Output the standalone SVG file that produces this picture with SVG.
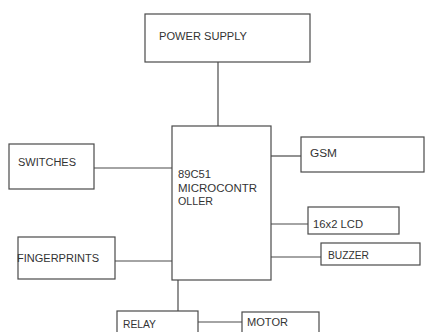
<svg xmlns="http://www.w3.org/2000/svg" width="425" height="332" viewBox="0 0 425 332">
<style>
.box{fill:#fff;stroke:#4a4a4a;stroke-width:1.2}
.ln{stroke:#4a4a4a;stroke-width:1.2;fill:none}
text{font-family:"Liberation Sans",Arial,sans-serif;font-size:10px;fill:#333;dominant-baseline:central}
</style>
<rect width="425" height="332" fill="#fff"/>
<g id="connectors">
<line class="ln" x1="218" y1="62" x2="218" y2="126"/>
<line class="ln" x1="94" y1="168" x2="172" y2="168"/>
<line class="ln" x1="115" y1="261" x2="172" y2="261"/>
<line class="ln" x1="271" y1="156" x2="301" y2="156"/>
<line class="ln" x1="270" y1="224" x2="308" y2="224"/>
<line class="ln" x1="270" y1="257" x2="321" y2="257"/>
<line class="ln" x1="178" y1="280" x2="178" y2="311"/>
<line class="ln" x1="198" y1="322" x2="247" y2="322"/>
</g>
<g id="power"><rect class="box" x="145" y="14" width="165" height="48"/><text x="159" y="36" textLength="88" lengthAdjust="spacingAndGlyphs">POWER SUPPLY</text></g>
<g id="mcu"><rect class="box" x="172" y="126" width="99" height="154"/>
<text x="178" y="174" textLength="33" lengthAdjust="spacingAndGlyphs">89C51</text>
<text x="178" y="188" textLength="79" lengthAdjust="spacingAndGlyphs">MICROCONTR</text>
<text x="178" y="201" textLength="35" lengthAdjust="spacingAndGlyphs">OLLER</text></g>
<g id="switches"><rect class="box" x="9" y="144" width="85" height="45"/><text x="18" y="162" textLength="58" lengthAdjust="spacingAndGlyphs">SWITCHES</text></g>
<g id="fingerprints"><rect class="box" x="18" y="237" width="97" height="42"/><text x="17" y="258" textLength="82" lengthAdjust="spacingAndGlyphs">FINGERPRINTS</text></g>
<g id="gsm"><rect class="box" x="301" y="137" width="123" height="35"/><text x="310" y="153" textLength="27" lengthAdjust="spacingAndGlyphs">GSM</text></g>
<g id="lcd"><rect class="box" x="308" y="207" width="91" height="27"/><text x="313" y="224" textLength="50" lengthAdjust="spacingAndGlyphs">16x2 LCD</text></g>
<g id="buzzer"><rect class="box" x="321" y="243" width="99" height="22"/><text x="328" y="255" textLength="41" lengthAdjust="spacingAndGlyphs">BUZZER</text></g>
<g id="relay"><rect class="box" x="117" y="311" width="81" height="30"/><text x="123" y="324" textLength="33" lengthAdjust="spacingAndGlyphs">RELAY</text></g>
<g id="motor"><rect class="box" x="242" y="312" width="77" height="30"/><text x="247" y="322" textLength="41" lengthAdjust="spacingAndGlyphs">MOTOR</text></g>
</svg>
